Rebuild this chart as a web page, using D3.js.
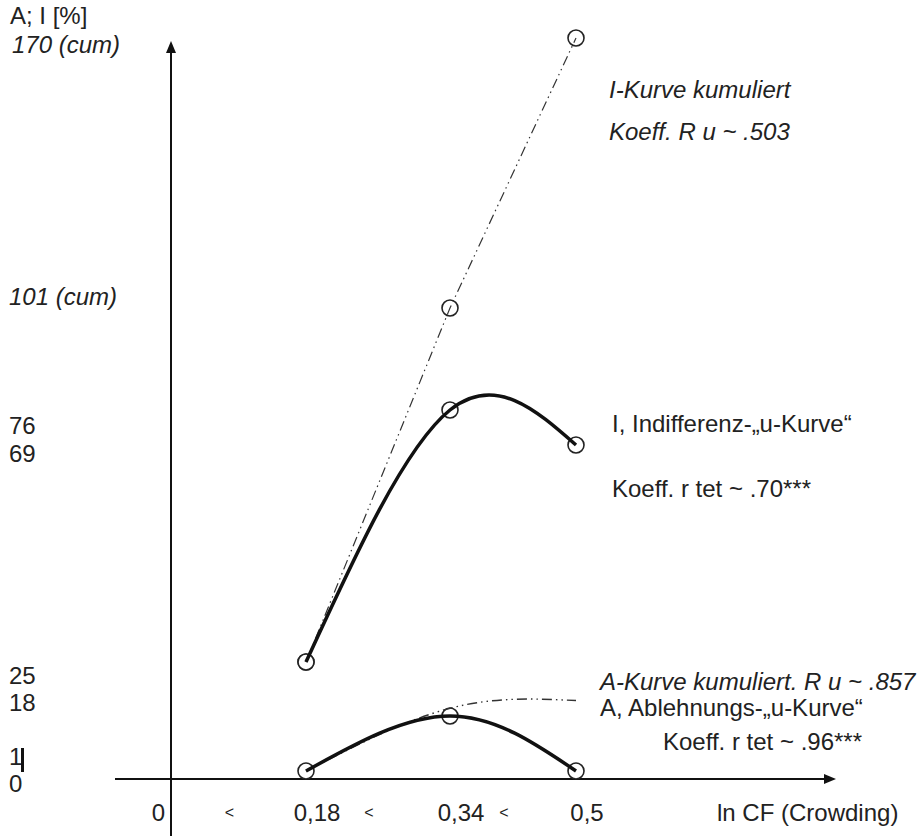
<!DOCTYPE html>
<html>
<head>
<meta charset="utf-8">
<script src="https://cdn.jsdelivr.net/npm/d3@7"></script>
<style>
  body { margin: 0; background: #fff; }
  svg text { font-family: "Liberation Sans", Arial, sans-serif; font-size: 24px; fill: #222; }
  .it { font-style: italic; }
</style>
</head>
<body>
<div id="main"></div>
<script>
// data
var xValues = [0.18, 0.34, 0.5];
var xTickValues = [0, 0.18, 0.34, 0.5];
var xTickLabels = ["0", "0,18", "0,34", "0,5"];
var aValues = [1, 18, 1];
var iValues = [25, 76, 69];
var iCumValues = [25, 101, 170];
var aCumValues = [1, 19, 20];
var yTickValues = [0, 1, 18, 25, 69, 76, 101, 170];
var yTickLabels = ["0", "1", "18", "25", "69", "76", "101 (cum)", "170 (cum)"];

var width = 920;
var height = 836;

var svg = d3.select('#main')
  .append('svg')
  .attr('width', width)
  .attr('height', height);

// the drawing is not to scale, so the axes are piecewise linear
var x = d3.scaleLinear()
  .domain(xTickValues)
  .range([171, 306, 450, 576]);

var y = d3.scaleLinear()
  .domain(yTickValues)
  .range([779, 771, 716, 662, 445, 410, 308, 38]);

// label nudges, the original labels were typed by hand
var yLabelNudge = [13, -6, -5, 22, 17, 24, -3, 15];

// axes with arrows
svg.append('line')
  .attr('x1', x(0)).attr('x2', x(0))
  .attr('y1', 52).attr('y2', height)
  .attr('stroke', '#111').attr('stroke-width', 2);
svg.append('path')
  .attr('d', 'M' + x(0) + ',41 l-5,12 l10,0 z')
  .attr('fill', '#111');

svg.append('line')
  .attr('x1', 115).attr('x2', 824)
  .attr('y1', y(0)).attr('y2', y(0))
  .attr('stroke', '#111').attr('stroke-width', 2);
svg.append('path')
  .attr('d', 'M836,' + y(0) + ' l-12,-5 l0,10 z')
  .attr('fill', '#111');

// y labels
svg.append('text').attr('x', 10).attr('y', 24).text('A; I [%]');

svg.selectAll('.ylab')
  .data(yTickValues)
  .enter().append('text')
  .attr('class', function(d, i) { return 'ylab' + (yTickLabels[i].indexOf('cum') > -1 ? ' it' : ''); })
  .attr('x', function(d, i) { return d == 170 ? 12 : 9; })
  .attr('y', function(d, i) { return y(d) + yLabelNudge[i]; })
  .text(function(d, i) { return yTickLabels[i]; });

svg.append('rect')
  .attr('x', 21).attr('y', y(1) - 23)
  .attr('width', 3).attr('height', 24)
  .attr('fill', '#111');

// x labels
svg.selectAll('.xlab')
  .data(xTickValues)
  .enter().append('text')
  .attr('class', 'xlab')
  .attr('text-anchor', function(d) { return d == 0 ? 'end' : 'middle'; })
  .attr('x', function(d) { return d == 0 ? x(d) - 6 : x(d) + 11; })
  .attr('y', 821)
  .text(function(d, i) { return xTickLabels[i]; });

svg.selectAll('.lt')
  .data(d3.pairs(xTickValues))
  .enter().append('text')
  .attr('class', 'lt')
  .attr('text-anchor', 'middle')
  .attr('x', function(d) { return (x(d[0]) + x(d[1])) / 2 - 9; })
  .attr('y', 818)
  .style('font-size', '16px')
  .text('<');

svg.append('text').attr('x', 717).attr('y', 821).text('ln CF (Crowding)');

// curves
var pts = function(vals) { return vals.map(function(v, i) { return [xValues[i], v]; }); };

var straight = d3.line()
  .x(function(d) { return x(d[0]); })
  .y(function(d) { return y(d[1]); });

var smooth = d3.line()
  .curve(d3.curveNatural)
  .x(function(d) { return x(d[0]); })
  .y(function(d) { return y(d[1]); });

var circles = svg.append('g');
[iCumValues, iValues, aValues].forEach(function(vals) {
  circles.selectAll(null)
    .data(pts(vals))
    .enter().append('circle')
    .attr('cx', function(d) { return x(d[0]); })
    .attr('cy', function(d) { return y(d[1]); })
    .attr('r', 8)
    .attr('fill', '#fff')
    .attr('stroke', '#222')
    .attr('stroke-width', 1.6);
});

svg.append('path')
  .datum(pts(iCumValues))
  .attr('d', straight)
  .attr('fill', 'none')
  .attr('stroke', '#333')
  .attr('stroke-width', 1.2)
  .attr('stroke-dasharray', '10,4,1.5,4,1.5,4');

svg.append('path')
  .datum(pts(aCumValues))
  .attr('d', smooth)
  .attr('fill', 'none')
  .attr('stroke', '#333')
  .attr('stroke-width', 1.4)
  .attr('stroke-dasharray', '10,4,1.5,4,1.5,4');

svg.append('path')
  .datum(pts(iValues))
  .attr('d', smooth)
  .attr('fill', 'none')
  .attr('stroke', '#111')
  .attr('stroke-width', 3.5);

svg.append('path')
  .datum(pts(aValues))
  .attr('d', smooth)
  .attr('fill', 'none')
  .attr('stroke', '#111')
  .attr('stroke-width', 3.5);

// annotations
var notes = [
  { t: 'I-Kurve kumuliert', x: 609, y: 98, it: true },
  { t: 'Koeff. R u ~ .503', x: 609, y: 140, it: true },
  { t: 'I, Indifferenz-\u201Eu-Kurve\u201C', x: 612, y: 432 },
  { t: 'Koeff. r tet ~ .70***', x: 612, y: 497 },
  { t: 'A-Kurve kumuliert. R u ~ .857', x: 600, y: 690, it: true },
  { t: 'A, Ablehnungs-\u201Eu-Kurve\u201C', x: 600, y: 716 },
  { t: 'Koeff. r tet ~ .96***', x: 663, y: 750 }
];

svg.selectAll('.note')
  .data(notes)
  .enter().append('text')
  .attr('class', function(d) { return 'note' + (d.it ? ' it' : ''); })
  .attr('x', function(d) { return d.x; })
  .attr('y', function(d) { return d.y; })
  .text(function(d) { return d.t; });
</script>
</body>
</html>
